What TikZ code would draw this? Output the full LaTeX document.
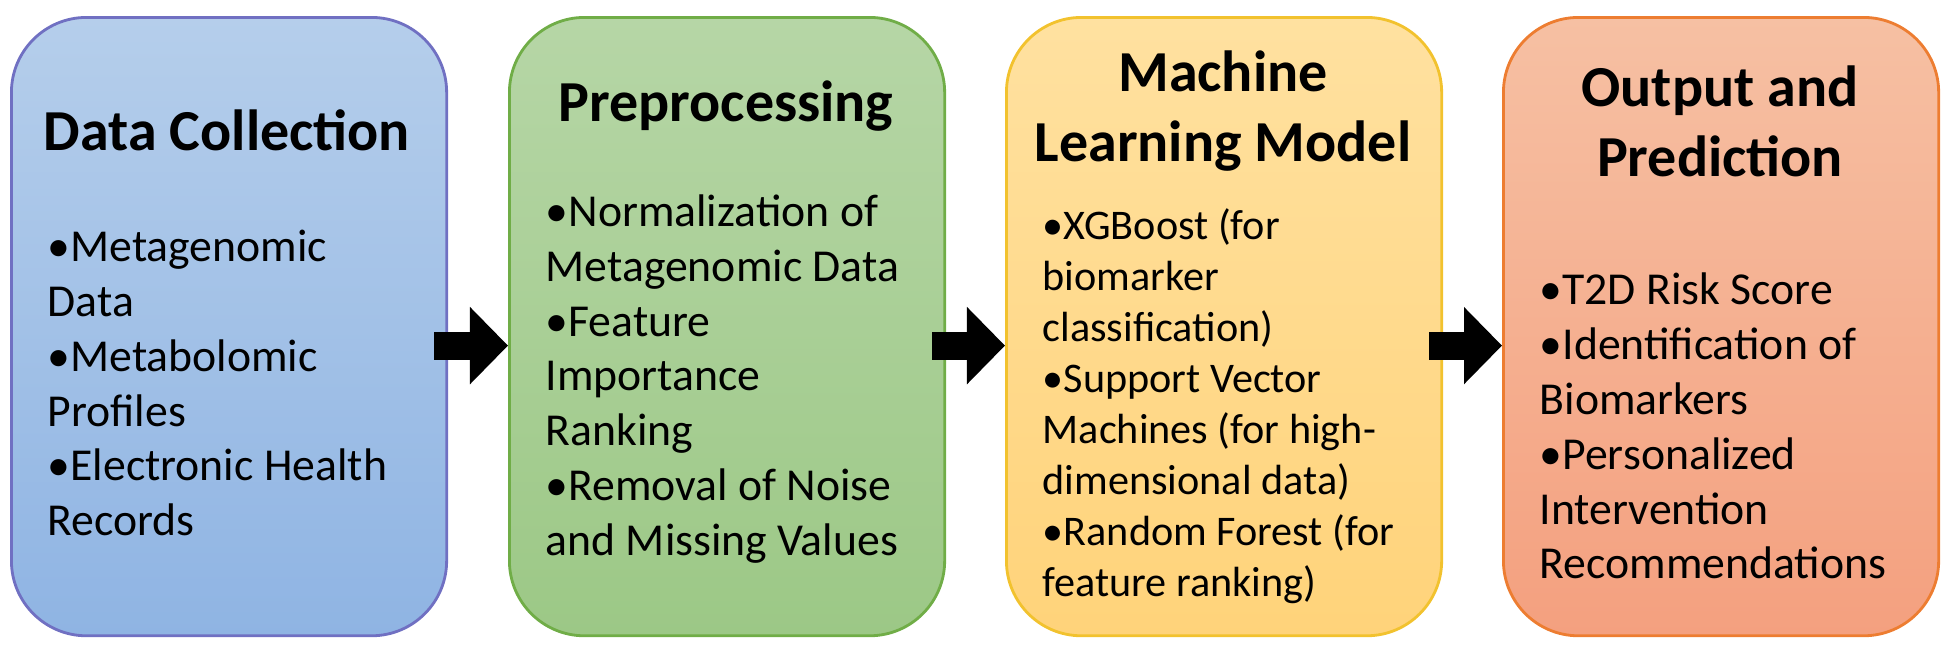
\documentclass[tikz,border=0pt]{standalone}
\usepackage{fontspec}
\setmainfont{Carlito}
\usetikzlibrary{arrows.meta}
\begin{document}
\begin{tikzpicture}[x=0.01cm,y=-0.01cm,
  box/.style={draw,line width=0.8pt,rounded corners=0.75cm,minimum width=4.35cm,minimum height=6.18cm,anchor=north west},
  ttl/.style={font=\bfseries\fontsize{16.5}{20}\selectfont,align=center},
  body/.style={font=\fontsize{13}{15.6}\selectfont,align=left,anchor=west,inner sep=0pt},
  arr/.style={line width=0.28cm,-{Triangle[length=0.38cm,width=0.75cm]}}]
\useasboundingbox (0,0) rectangle (1949,650);
\node[box,draw=blue!40!gray!80,top color={rgb,255:red,181;green,206;blue,235},bottom color={rgb,255:red,143;green,180;blue,227}] (b1) at (10,16) {};
\node[box,draw={rgb,255:red,112;green,173;blue,71},top color={rgb,255:red,182;green,214;blue,166},bottom color={rgb,255:red,156;green,200;blue,134}] (b2) at (508,16) {};
\node[box,draw={rgb,255:red,242;green,194;blue,46},top color={rgb,255:red,255;green,225;blue,160},bottom color={rgb,255:red,255;green,211;blue,122}] (b3) at (1005,16) {};
\node[box,draw={rgb,255:red,237;green,125;blue,49},top color={rgb,255:red,246;green,192;blue,163},bottom color={rgb,255:red,244;green,160;blue,127}] (b4) at (1502,16) {};
\node[ttl] (t1) at (227,130) {Data Collection};
\node[ttl] (t2) at (726,106) {Preprocessing};
\node[ttl] (t3) at (1223,111) {Machine\\Learning Model};
\node[ttl] (t4) at (1720,121) {Output and\\Prediction};
\node[body] (d1) at (47,383) {•Metagenomic\\Data\\•Metabolomic\\Profiles\\•Electronic Health\\Records};
\node[body] (d2) at (545,379) {•Normalization of\\Metagenomic Data\\•Feature\\Importance\\Ranking\\•Removal of Noise\\and Missing Values};
\node[body,font=\fontsize{12}{14.5}\selectfont] (d3) at (1042,406) {•XGBoost (for\\biomarker\\classification)\\•Support Vector\\Machines (for high-\\dimensional data)\\•Random Forest (for\\feature ranking)};
\node[body] (d4) at (1539,426) {•T2D Risk Score\\•Identification of\\Biomarkers\\•Personalized\\Intervention\\Recommendations};
\draw[arr] ([xshift=-0.14cm,yshift=-0.19cm]b1.east) -- ([yshift=-0.19cm]b2.west);
\draw[arr] ([xshift=-0.14cm,yshift=-0.19cm]b2.east) -- ([yshift=-0.19cm]b3.west);
\draw[arr] ([xshift=-0.14cm,yshift=-0.19cm]b3.east) -- ([yshift=-0.19cm]b4.west);
\end{tikzpicture}
\end{document}
